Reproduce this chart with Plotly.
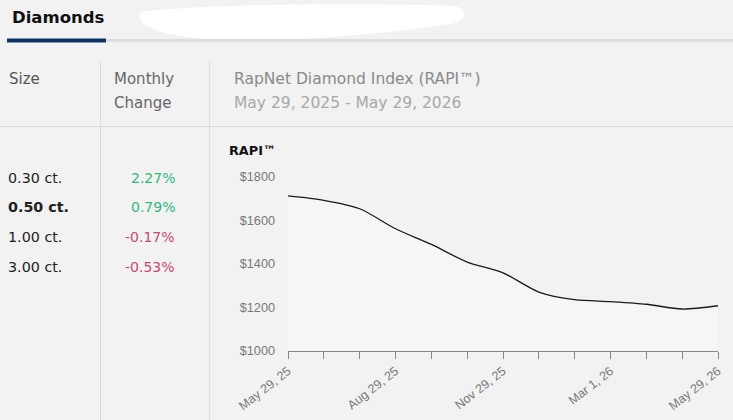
import plotly.graph_objects as go

W, H = 733, 420

dates = ["May 29, 25", "Jun 29, 25", "Jul 29, 25", "Aug 29, 25", "Sep 29, 25", "Oct 29, 25",
         "Nov 29, 25", "Dec 29, 25", "Jan 29, 26", "Mar 1, 26", "Mar 29, 26", "Apr 29, 26", "May 29, 26"]
rapi = [1713, 1693, 1654, 1562, 1490, 1409, 1359, 1271, 1236, 1227, 1215, 1193, 1208]
label_dates = ["May 29, 25", "Aug 29, 25", "Nov 29, 25", "Mar 1, 26", "May 29, 26"]
y_ticks = [1000, 1200, 1400, 1600, 1800]

sizes = ["0.30 ct.", "0.50 ct.", "1.00 ct.", "3.00 ct."]
changes = [2.27, 0.79, -0.17, -0.53]

FONT = "DejaVu Sans, sans-serif"

def px(x):
    return x / W

def py(y):
    return 1 - y / H

fig = go.Figure()
xi = list(range(len(dates)))
fig.add_trace(go.Scatter(
    x=xi, y=rapi, mode="lines",
    line=dict(color="#1a1a1a", width=1.3, shape="spline", smoothing=0.8),
    fill="tozeroy", fillcolor="#f7f6f4", hoverinfo="skip", showlegend=False,
))

ticktext = [d if d in label_dates else "" for d in dates]

fig.update_layout(
    width=W, height=H, margin=dict(l=0, r=0, t=0, b=0, pad=0, autoexpand=False),
    paper_bgcolor="#f2f2f2", plot_bgcolor="rgba(0,0,0,0)",
    font=dict(family=FONT, color="#333"),
    xaxis=dict(
        domain=[px(288), px(718)], range=[0, len(dates) - 1], automargin=False,
        tickmode="array", tickvals=xi, ticktext=ticktext,
        ticks="outside", ticklen=7, tickcolor="#888", tickwidth=1,
        showline=True, linecolor="#888", linewidth=1, showgrid=False, zeroline=False,
        tickangle=-38, tickfont=dict(family="Liberation Sans, Arial", size=12.5, color="#777"),
    ),
    yaxis=dict(
        domain=[py(351), py(177)], range=[1000, 1800], automargin=False,
        tickmode="array", tickvals=y_ticks, ticktext=[f"${v}" for v in y_ticks],
        showgrid=False, zeroline=False, showline=False, ticks="",
        ticklabelstandoff=12,
        tickfont=dict(family="Liberation Sans, Arial", size=12.7, color="#777"),
    ),
)

shapes = []
# redaction blob
shapes.append(dict(type="path", xref="paper", yref="paper",
                   path=f"M {px(140)},{py(12)} C {px(200)},{py(3)} {px(400)},{py(3)} {px(455)},{py(6)} "
                        f"C {px(470)},{py(10)} {px(465)},{py(22)} {px(450)},{py(24)} "
                        f"C {px(400)},{py(32)} {px(300)},{py(42)} {px(220)},{py(40)} "
                        f"C {px(160)},{py(36)} {px(135)},{py(26)} {px(140)},{py(12)} Z",
                   fillcolor="#ffffff", line=dict(width=0)))
# tab bars
shapes.append(dict(type="line", xref="paper", yref="paper", x0=px(106), x1=px(733), y0=py(40.5), y1=py(40.5),
                   line=dict(color="#dedede", width=3)))
shapes.append(dict(type="line", xref="paper", yref="paper", x0=px(7), x1=px(106), y0=py(40.5), y1=py(40.5),
                   line=dict(color="#0d3466", width=4)))
# dividers
for xv in (100.5, 209.5):
    shapes.append(dict(type="line", xref="paper", yref="paper", x0=px(xv), x1=px(xv), y0=py(62), y1=py(420),
                       line=dict(color="#dcdcdc", width=1)))
shapes.append(dict(type="line", xref="paper", yref="paper", x0=0, x1=1, y0=py(126.5), y1=py(126.5),
                   line=dict(color="#dcdcdc", width=1)))
fig.update_layout(shapes=shapes)

ann = []
def text(x, y, s, size=14, color="#333", anchor="left", bold=False, family=FONT):
    ann.append(dict(xref="paper", yref="paper", x=px(x), y=py(y), text=f"<b>{s}</b>" if bold else s,
                    showarrow=False, xanchor=anchor, yanchor="middle",
                    font=dict(size=size, color=color, family=family)))

text(10, 18, "Diamonds", size=16.5, color="#111", bold=True)
text(7, 79, "Size", size=15, color="#555")
text(112, 79, "Monthly", size=15, color="#666")
text(112, 103, "Change", size=15, color="#666")
text(232, 79, "RapNet Diamond Index (RAPI™)", size=15.5, color="#8a8a8a")
text(232, 103, "May 29, 2025 - May 29, 2026", size=15.5, color="#a8a8a8")
rows_y = [178, 207, 237, 267]
for i, (s, c) in enumerate(zip(sizes, changes)):
    text(6, rows_y[i], s, size=14.3, color="#222", bold=(s == "0.50 ct."))
    col = "#2dbb7c" if c >= 0 else "#c9496b"
    text(177, rows_y[i], f"{c:.2f}%", size=14, color=col, anchor="right")
text(227, 150, "RAPI™", size=12.8, color="#111", bold=True)
fig.update_layout(annotations=ann)

fig.write_html("out.html", config={"displayModeBar": False},
               post_script="document.body.style.margin='0';")
